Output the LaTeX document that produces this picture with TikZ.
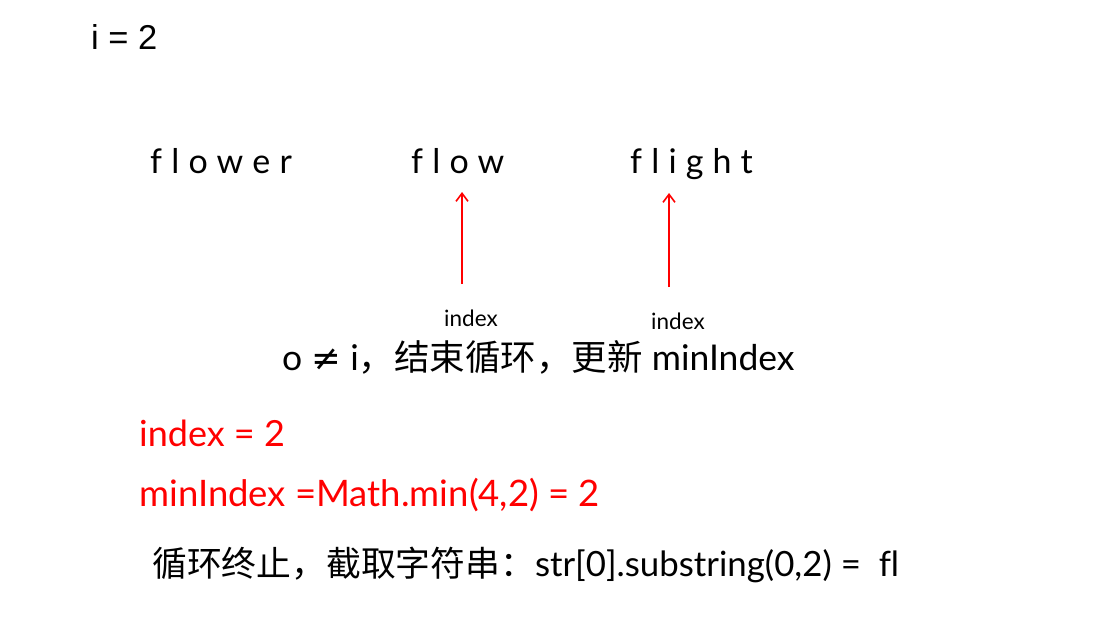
\documentclass[tikz,border=0pt]{standalone}
\usepackage{fontspec}
\setmainfont{Lato}[Ligatures=NoCommon]
\newfontfamily\arialfont{Liberation Sans}
\newfontfamily\cjk{Noto Sans CJK SC}
\newfontfamily\dejavu{DejaVu Sans}
\newfontfamily\spaced[LetterSpace=27,Ligatures=NoCommon]{Lato}
\usetikzlibrary{arrows.meta}
\begin{document}
\begin{tikzpicture}[x=1pt,y=-1pt,
  txt/.style={anchor=base west,inner sep=0pt,font=\fontsize{36}{40}\selectfont},
  word/.style={anchor=base west,inner sep=0pt,font=\spaced\fontsize{34}{40}\selectfont},
  lbl/.style={anchor=base west,inner sep=0pt,font=\fontsize{22.5}{26}\selectfont},
  redtxt/.style={txt,text=red},
  ptr/.style={draw=red,line width=1.6pt,-{Straight Barb[length=8pt,width=12pt,line width=1.6pt]}}]
\useasboundingbox (0,0) rectangle (1111,626);
\node[anchor=base west,inner sep=0pt,font=\arialfont\fontsize{34.5}{40}\selectfont] (ival) at (91,50) {i = 2};
\node[word] (w1) at (150,173) {flower};
\node[word] (w2) at (411,173) {flow};
\node[word] (w3) at (630,173) {flight};
\coordinate (a1s) at (462,284);
\coordinate (a1e) at (462,192);
\coordinate (a2s) at (669,287);
\coordinate (a2e) at (669,193);
\draw[ptr] (a1s) -- (a1e);
\draw[ptr] (a2s) -- (a2e);
\node[lbl] (l1) at (444,326) {index};
\node[lbl] (l2) at (651,329) {index};
\node[txt,font=\fontsize{35.5}{40}\selectfont] (msg) at (282,370) {o {\dejavu ≠} i{\cjk ，结束循环，更新} minIndex};
\node[redtxt] (idx) at (139,446) {index = 2};
\node[redtxt,font=\fontsize{36.5}{40}\selectfont] (mi) at (139,506) {minIndex =Math.min(4,2) = 2};
\node[txt,font=\fontsize{34.8}{40}\selectfont] (res) at (152,576) {{\cjk 循环终止，截取字符串：}str[0].substring(0,2) =\ \ fl};
\end{tikzpicture}
\end{document}
